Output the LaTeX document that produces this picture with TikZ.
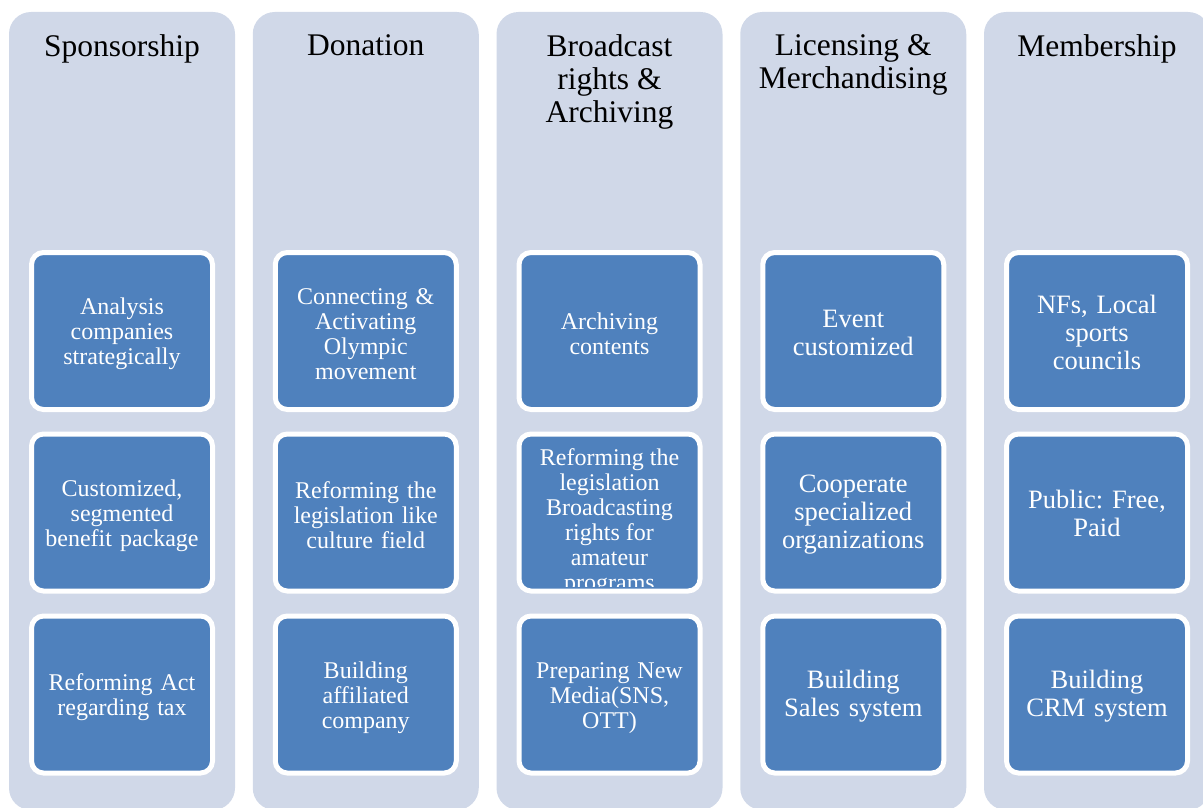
\documentclass[tikz,border=0pt]{standalone}
\usepackage{fontspec}
\setmainfont{Liberation Serif}
\usepackage{tikz}
\usetikzlibrary{calc}
\definecolor{colbg}{HTML}{D0D8E8}
\definecolor{boxblue}{HTML}{4F81BD}
\newcommand{\headtxt}{\fontsize{31.5}{33}\selectfont}
\newcommand{\smtxt}{\fontsize{24}{25}\selectfont}
\newcommand{\bigtxt}{\fontsize{26.5}{28}\selectfont}
\frenchspacing

\begin{document}
\begin{tikzpicture}[x=1pt,y=-1pt,
    column/.style={fill=colbg,rounded corners=22pt,minimum width=226pt,minimum height=798pt,inner sep=0pt},
    head/.style={anchor=north,align=center,inner sep=0pt,font=\headtxt},
    box/.style={fill=boxblue,draw=white,line width=5pt,rounded corners=12pt,minimum width=181pt,minimum height=157pt,inner sep=0pt},
    item/.style={box,text width=172pt,align=center,text=white},
    smitem/.style={item,font=\smtxt,execute at begin node={\rule{0pt}{0.95em}}},
    bigitem/.style={item,font=\bigtxt,execute at begin node={\rule{0pt}{0.8em}}}]
    \useasboundingbox (0,0) rectangle (1203,808);
    \clip (0,0) rectangle (1203,808);
    % columns
    \node[column](Sp) at (122,411) {};
    \node[column](Do) at (365.75,411) {};
    \node[column](Br) at (609.5,411) {};
    \node[column](Li) at (853.25,411) {};
    \node[column](Me) at (1097,411) {};
    \node[head](SpH) at (122,34) {Sponsorship};
    \node[head](DoH) at (365.75,34) {Donation};
    \node[head](BrH) at (609.5,34) {Broadcast\\rights \&\\Archiving};
    \node[head](LiH) at (853.25,34) {Licensing \&\\Merchandising};
    \node[head](MeH) at (1097,34) {Membership};
    % sponsorship
    \node[smitem](Sp1) at (122,331) {Analysis\\companies\\strategically};
    \node[smitem](Sp2) at (122,512.5) {Customized,\\segmented\\benefit package};
    \node[smitem](Sp3) at (122,694.5) {Reforming Act\\regarding tax};
    % donation
    \node[smitem](Do1) at (365.75,331) {Connecting \&\\Activating\\Olympic\\movement};
    \node[smitem](Do2) at (365.75,512.5) {Reforming the\\legislation like\\culture field};
    \node[smitem](Do3) at (365.75,694.5) {Building\\affiliated\\company};
    % broadcast rights
    \node[smitem](Br1) at (609.5,331) {Archiving\\contents};
    \node[box](Br2) at (609.5,512.5) {};
    \begin{scope}
      \clip[rounded corners=10pt] ($(Br2.north west)+(2.5,2.5)$) rectangle ($(Br2.south east)+(-2.5,-7)$);
      \node[align=center,text=white,font=\smtxt,inner sep=0pt](Br2t) at ($(Br2.center)+(0,10)$) {Reforming the\\legislation\\Broadcasting\\rights for\\amateur\\programs};
    \end{scope}
    \node[smitem](Br3) at (609.5,694.5) {Preparing New\\Media(SNS,\\OTT)};
    % licensing
    \node[bigitem](Li1) at (853.25,331) {Event\\customized};
    \node[bigitem](Li2) at (853.25,512.5) {Cooperate\\specialized\\organizations};
    \node[bigitem](Li3) at (853.25,694.5) {Building\\Sales system};
    % membership
    \node[bigitem](Me1) at (1097,331) {NFs, Local\\sports\\councils};
    \node[bigitem](Me2) at (1097,512.5) {Public: Free,\\Paid};
    \node[bigitem](Me3) at (1097,694.5) {Building\\CRM system};
\end{tikzpicture}
\end{document}
